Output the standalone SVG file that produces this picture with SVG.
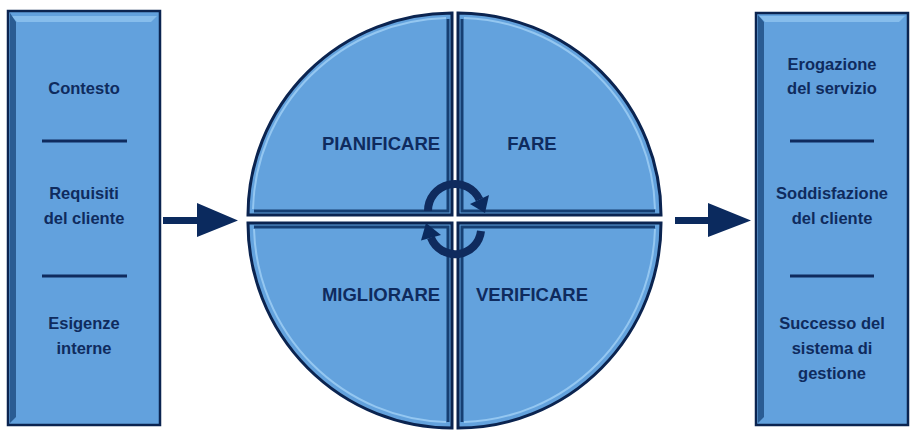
<svg xmlns="http://www.w3.org/2000/svg" width="916" height="438" viewBox="0 0 916 438">
<style>
.box{fill:#62a1dd;stroke:#0b2450;stroke-width:2.5}
.q{fill:#63a2dd;stroke:#0b2450;stroke-width:3}
.hl{fill:none;stroke:#94c7f1;stroke-width:2}
.sh{fill:none;stroke:#163f73;stroke-width:3}
.t{font-family:"Liberation Sans",Arial,sans-serif;font-weight:bold;fill:#0f2b5e;text-anchor:middle}
.s{font-size:16.5px}
.b{font-size:18.5px}
.sep{stroke:#0f2b5e;stroke-width:3}
.arr{fill:#0b2a5e}
.cyc{fill:none;stroke:#0f2b5e;stroke-width:8}
</style>
<rect width="916" height="438" fill="#ffffff"/>

<g id="left-box">
  <rect class="box" x="8" y="11" width="152" height="414"/>
  <path d="M11,16 L17,22 H151 L157,16" fill="#86bdec" stroke="none"/>
  <path d="M10,13 V423 L16,417 V22 Z" fill="#2a5c93" stroke="none"/>
  <text class="t s" x="84" y="94">Contesto</text>
  <line class="sep" x1="42" y1="141" x2="127" y2="141"/>
  <text class="t s" x="84" y="199">Requisiti</text>
  <text class="t s" x="84" y="224">del cliente</text>
  <line class="sep" x1="42" y1="276" x2="127" y2="276"/>
  <text class="t s" x="84" y="329">Esigenze</text>
  <text class="t s" x="84" y="354">interne</text>
</g>

<g id="right-box">
  <rect class="box" x="756" y="13" width="152" height="412"/>
  <path d="M759,16 L765,22 H899 L905,16" fill="#86bdec" stroke="none"/>
  <path d="M758,15 V423 L764,417 V22 Z" fill="#2a5c93" stroke="none"/>
  <text class="t s" x="832" y="70">Erogazione</text>
  <text class="t s" x="832" y="94">del servizio</text>
  <line class="sep" x1="790" y1="141" x2="874" y2="141"/>
  <text class="t s" x="832" y="199">Soddisfazione</text>
  <text class="t s" x="832" y="224">del cliente</text>
  <line class="sep" x1="790" y1="276" x2="874" y2="276"/>
  <text class="t s" x="832" y="329">Successo del</text>
  <text class="t s" x="832" y="354">sistema di</text>
  <text class="t s" x="832" y="379">gestione</text>
</g>

<g id="pianificare">
  <path class="q" d="M452,215 L248,215 A204,202 0 0 1 452,13 Z"/>
  <path class="hl" d="M253,209 A198,196 0 0 1 446,18"/>
  <path class="sh" d="M448,19 V211 H254"/>
  <text class="t b" x="381" y="150">PIANIFICARE</text>
</g>
<g id="fare">
  <path class="q" d="M458,215 L458,13 A203,202 0 0 1 661,215 Z"/>
  <path class="hl" d="M464,18 A197,196 0 0 1 655,209"/>
  <path class="sh" d="M462,19 V211 H655"/>
  <text class="t b" x="532" y="150">FARE</text>
</g>
<g id="migliorare">
  <path class="q" d="M452,223 L452,428 A204,205 0 0 1 248,223 Z"/>
  <path class="hl" d="M254,229 A198,199 0 0 0 446,422"/>
  <path class="sh" d="M448,422 V227 H254"/>
  <text class="t b" x="381" y="301">MIGLIORARE</text>
</g>
<g id="verificare">
  <path class="q" d="M458,223 L661,223 A203,205 0 0 1 458,428 Z"/>
  <path class="hl" d="M655,229 A197,199 0 0 1 464,422"/>
  <path class="sh" d="M462,422 V227 H655"/>
  <text class="t b" x="532" y="301">VERIFICARE</text>
</g>

<g id="cycle">
  <path class="cyc" d="M428,211 A27,27 0 0 1 479.5,199.6"/>
  <polygon class="arr" points="489,195 470,204 485,213"/>
  <path class="cyc" d="M481,231 A26,26 0 0 1 430.9,237.5"/>
  <polygon class="arr" points="421,240.5 441,235 426,223"/>
</g>

<g id="connectors">
  <polygon class="arr" points="163,217 197,217 197,203 238,220.5 197,237 197,224 163,224"/>
  <polygon class="arr" points="675,217 708,217 708,203 751,220.5 708,237 708,224 675,224"/>
</g>
</svg>
